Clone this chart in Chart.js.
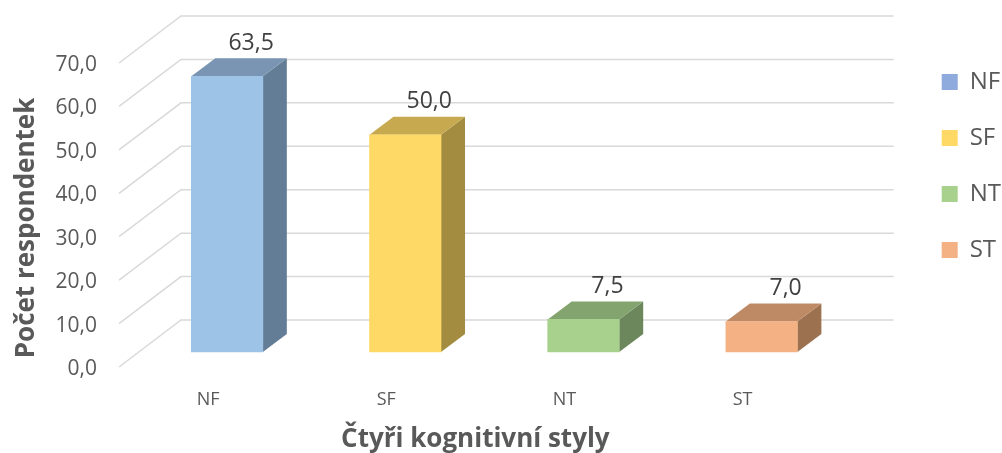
<!DOCTYPE html>
<html><head><meta charset="utf-8">
<style>html,body{margin:0;padding:0;background:#fff}#w{width:1002px;height:453px;position:relative}</style>
<script src="https://cdn.jsdelivr.net/npm/chart.js@4/dist/chart.umd.min.js"></script>
</head><body><div id="w"><canvas id="c" width="1002" height="453"></canvas></div>
<script>
const categories = ['NF','SF','NT','ST'];
const values = [63.5,50.0,7.5,7.0];
const frontColors = ['#9DC3E6','#FFD966','#A9D18E','#F4B183'];
const topColors = ['#7A95B3','#C7A94F','#83A36F','#BE8A66'];
const sideColors = ['#647D97','#A38C40','#6C875B','#9C7150'];
const legendColors = ['#8FAADC','#FFD966','#A9D18E','#F4B183'];
const yTitle = 'Počet respondentek';
const xTitle = 'Čtyři kognitivní styly';
const fontFamily = '"Open Sans", sans-serif';

const WALL = {dx:62, dy:-47};
const BAR = {dx:19, dy:-15, ddx:24, ddy:-18};
const fmt = v => v.toFixed(1).replace('.', ',');

function nudge(obj, method, dx, dy, ctx){
  if(obj['__n'+method]) return;
  obj['__n'+method] = true;
  const orig = obj[method];
  obj[method] = function(){ctx.save();ctx.translate(dx,dy);orig.apply(this,arguments);ctx.restore();};
}

const box3d = {
  id:'box3d',
  afterLayout(chart){
    nudge(chart.scales.y,'drawTitle',3,13,chart.ctx);
    nudge(chart.scales.x,'drawTitle',0,2,chart.ctx);
    nudge(chart.legend,'draw',78,-25,chart.ctx);
  },
  beforeDatasetsDraw(chart){
    const {ctx,chartArea:a,scales:{y}} = chart;
    ctx.save();
    ctx.strokeStyle='#D9D9D9';ctx.lineWidth=1.5;
    y.ticks.forEach(t=>{
      const p=y.getPixelForValue(t.value);
      ctx.beginPath();ctx.moveTo(a.left,p);ctx.lineTo(a.left+WALL.dx,p+WALL.dy);ctx.lineTo(a.right+WALL.dx,p+WALL.dy);ctx.stroke();
    });
    ctx.restore();
    const meta=chart.getDatasetMeta(0);
    ctx.save();
    meta.data.forEach((b,i)=>{
      const l=b.x-b.width/2+BAR.dx,r=b.x+b.width/2+BAR.dx,t=b.y+BAR.dy,bt=b.base+BAR.dy;
      ctx.fillStyle=sideColors[i];
      ctx.beginPath();ctx.moveTo(r,t);ctx.lineTo(r+BAR.ddx,t+BAR.ddy);ctx.lineTo(r+BAR.ddx,bt+BAR.ddy);ctx.lineTo(r,bt);ctx.closePath();ctx.fill();
      ctx.fillStyle=topColors[i];
      ctx.beginPath();ctx.moveTo(l,t);ctx.lineTo(l+BAR.ddx,t+BAR.ddy);ctx.lineTo(r+BAR.ddx,t+BAR.ddy);ctx.lineTo(r,t);ctx.closePath();ctx.fill();
    });
    ctx.restore();
    ctx.save();ctx.translate(BAR.dx,BAR.dy);
  },
  afterDatasetsDraw(chart){
    const {ctx}=chart;
    ctx.restore();
    const meta=chart.getDatasetMeta(0);
    ctx.save();
    ctx.font='23px '+fontFamily;ctx.fillStyle='#404040';ctx.textAlign='center';ctx.textBaseline='middle';
    meta.data.forEach((b,i)=>{
      ctx.fillText(fmt(values[i]),b.x+BAR.dx+BAR.ddx,b.y+BAR.dy+BAR.ddy-15);
    });
    ctx.restore();
  }
};

new Chart(document.getElementById('c'),{
  type:'bar',
  data:{labels:categories,datasets:[{data:values,backgroundColor:frontColors,borderWidth:0,barThickness:71.5,clip:false}]},
  plugins:[box3d],
  options:{
    responsive:false,animation:false,
    layout:{padding:{top:63,left:0,bottom:0,right:69}},
    plugins:{
      tooltip:{enabled:false},
      legend:{position:'right',align:'start',
        labels:{
          boxWidth:16,boxHeight:16,padding:32,color:'#595959',font:{family:fontFamily,size:24},
          generateLabels:()=>categories.map((c,i)=>({text:c,fillStyle:legendColors[i],strokeStyle:legendColors[i],fontColor:'#595959',lineWidth:0,index:i}))
        }
      }
    },
    scales:{
      x:{
        grid:{display:false},border:{display:false},
        ticks:{color:'#595959',font:{family:fontFamily,size:18},padding:14,maxRotation:0},
        title:{display:true,text:xTitle,color:'#595959',font:{family:fontFamily,size:26,weight:'bold'},padding:{top:8,bottom:0}},
        afterFit:s=>{s.height=86;}
      },
      y:{
        min:0,max:70,
        grid:{display:false},border:{display:false},
        ticks:{stepSize:10,color:'#595959',font:{family:fontFamily,size:21},padding:14,labelOffset:2,callback:v=>fmt(v)},
        title:{display:true,text:yTitle,color:'#595959',font:{family:fontFamily,size:26,weight:'bold'},padding:{top:8,bottom:0}},
        afterFit:s=>{s.width=119;}
      }
    }
  }
});
</script></body></html>
